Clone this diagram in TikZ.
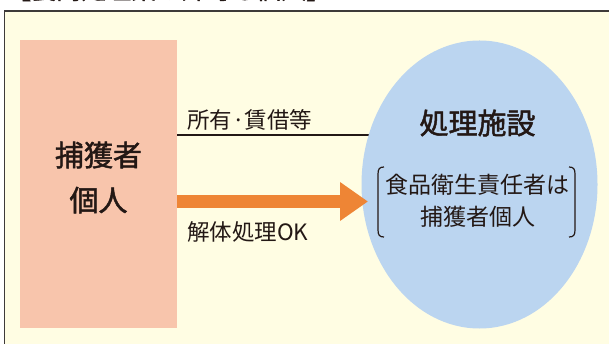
\documentclass[tikz,border=0pt]{standalone}
\usepackage{fontspec}
\setmainfont{Noto Sans CJK JP}
\newfontfamily\medfont[FakeBold=1.6]{Noto Sans CJK JP}
\usetikzlibrary{shapes.geometric,arrows.meta}
\definecolor{txt}{HTML}{231815}
\definecolor{framec}{HTML}{3E3A39}
\definecolor{bgyel}{HTML}{FFFDE3}
\definecolor{pinkc}{HTML}{F8C5AC}
\definecolor{bluec}{HTML}{BBD5F0}
\definecolor{orangec}{HTML}{EE8535}
\tikzset{
  fs/.style={font=\fontsize{#1}{#1}\selectfont},
  lbl/.style={text=txt, inner sep=0pt},
}
\begin{document}
\begin{tikzpicture}[x=1pt,y=-1pt]
\useasboundingbox (0,0) rectangle (609,344);
\clip (0,0) rectangle (609,344);
% frame
\draw[framec, line width=1.5pt, fill=bgyel] (4.7,11) rectangle (620,355);
% title (cut off at top)
\node[lbl, anchor=base west, font=\fontsize{25}{25}\selectfont\medfont] (title) at (6,-1) {【食肉処理業の許可も個人】};
% pink box
\node[fill=pinkc, minimum width=157pt, minimum height=288pt, inner sep=0pt, anchor=north west] (cap) at (20,40) {};
\node[lbl, align=center, font=\fontsize{29}{45}\selectfont\medfont] (capt) at (98.5,177.5) {捕獲者\\個人};
% line
\coordinate (lend) at (385,135);
\draw[txt, line width=1.4pt] (cap.east |- lend) -- (lend);
% ellipse
\node[ellipse, fill=bluec, minimum width=236pt, minimum height=288pt, inner sep=0pt] (el) at (479.5,184.5) {};
% arrow
\coordinate (tip) at (368,201.5);
\draw[orangec, line width=13pt, -{Triangle[length=28pt,width=37pt]}] (cap.east |- tip) -- (tip);
% labels
\node[lbl, anchor=west, fs=22.5] (own) at (187,120) {所有·賃借等};
\node[lbl, anchor=west, fs=22.5] (ok) at (187,232) {解体処理OK};
\node[lbl, font=\fontsize{29}{29}\selectfont\medfont] (fac) at (477.5,123) {処理施設};
\node[lbl, align=center, font=\fontsize{23}{32}\selectfont] (resp) at (477.5,201) {食品衛生責任者は\\捕獲者個人};
% brackets
\draw[txt, line width=1.2pt] (384,167) .. controls (379.5,167) and (378,169) .. (378,174) -- (378,230) .. controls (378,235) and (379.5,237) .. (384,237);
\draw[txt, line width=1.2pt] (569,167) .. controls (573.5,167) and (575,169) .. (575,174) -- (575,230) .. controls (575,235) and (573.5,237) .. (569,237);
\end{tikzpicture}
\end{document}
